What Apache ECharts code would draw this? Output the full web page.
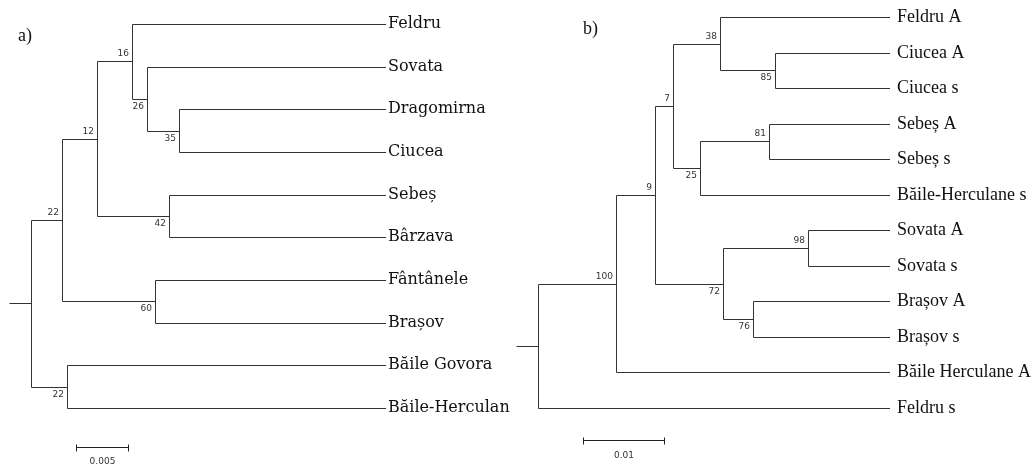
<!DOCTYPE html>
<html><head><meta charset="utf-8">
<script src="https://cdn.jsdelivr.net/npm/echarts@6/dist/echarts.min.js"></script>
<style>html,body{margin:0;padding:0;background:#fff}#c{width:1036px;height:464px}</style>
</head><body><div id="c"></div>
<script>
// ---- Tree a) : nodes in drawing order, parent, branch length, bootstrap support
const nodesA   = ['root','c22a','c12','c16','Feldru','c26','Sovata','c35','Dragomirna','Ciucea','c42','Sebeș','Bârzava','c60','Fântânele','Brașov','c22b','Băile Govora','Băile-Herculan'];
const parentsA = [null,'root','c22a','c12','c16','c16','c26','c26','c35','c35','c12','c42','c42','c22a','c60','c60','root','c22b','c22b'];
const branchA  = [0.0021,0.0030,0.00337,0.00337,0.02442,0.00144,0.02298,0.00308,0.0199,0.0199,0.00692,0.02087,0.02087,0.00894,0.0222,0.0222,0.00346,0.03067,0.03067];
const supportA = [null,22,12,16,null,26,null,35,null,null,42,null,null,60,null,null,22,null,null];
const scaleA = 0.005;
const scaleLabelA = '0.005';

// ---- Tree b)
const nodesB   = ['root','c100','c9','c7','c38','Feldru A','c85','Ciucea A','Ciucea s','c25','c81','Sebeș A','Sebeș s','Băile-Herculane s','c72','c98','Sovata A','Sovata s','c76','Brașov A','Brașov s','Băile Herculane A','Feldru s'];
const parentsB = [null,'root','c100','c9','c7','c38','c38','c85','c85','c7','c25','c81','c81','c25','c9','c72','c98','c98','c72','c76','c76','c100','root'];
const branchB  = [0.00272,0.00963,0.00481,0.00222,0.0058,0.02099,0.00679,0.0142,0.0142,0.00333,0.00852,0.01494,0.01494,0.02346,0.0084,0.01049,0.01012,0.01012,0.0037,0.01691,0.01691,0.03383,0.04346];
const supportB = [null,100,9,7,38,null,85,null,null,25,81,null,null,null,72,98,null,null,76,null,null,null,null];
const scaleB = 0.01;
const scaleLabelB = '0.01';

function layoutTree(nodes, parents, branch, support) {
  const idx = {}; nodes.forEach((n, i) => idx[n] = i);
  const children = nodes.map(() => []);
  parents.forEach((p, i) => { if (p !== null) children[idx[p]].push(i); });
  const out = nodes.map((n, i) => ({ name: n, leaf: children[i].length === 0, support: support[i] }));
  let leafCount = 0;
  function visit(i, depth) {
    out[i].depth = depth;
    out[i].pdepth = parents[i] === null ? -branch[i] : depth - branch[i];
    if (children[i].length === 0) { out[i].y = leafCount++; }
    else {
      children[i].forEach(c => visit(c, depth + branch[c]));
      const f = children[i][0], l = children[i][children[i].length - 1];
      out[i].y = (out[f].y + out[l].y) / 2;
      out[i].y0 = out[f].y; out[i].y1 = out[l].y;
    }
    if (parents[i] !== null) {
      const sib = children[idx[parents[i]]];
      out[i].upper = sib[0] === i;
    }
  }
  visit(0, 0);
  const maxDepth = Math.max(...out.filter(o => o.leaf).map(o => o.depth));
  return { nodes: out, leaves: leafCount, min: -branch[0], max: maxDepth };
}

const LA = layoutTree(nodesA, parentsA, branchA, supportA);
const LB = layoutTree(nodesB, parentsB, branchB, supportB);

const LINE = '#333';
const px = v => Math.round(v) + 0.5;

function treeRender(L, cfg) {
  return function (params, api) {
    const n = L.nodes[params.dataIndex];
    const p1 = api.coord([n.pdepth, n.y]);
    const p2 = api.coord([n.depth, n.y]);
    const kids = [];
    const y = px(p2[1]);
    kids.push({ type: 'line', shape: { x1: px(p1[0]), y1: y, x2: n.leaf ? Math.round(p2[0]) : px(p2[0]), y2: y },
      style: { stroke: LINE, lineWidth: 1 } });
    if (!n.leaf) {
      const a = api.coord([n.depth, n.y0]), b = api.coord([n.depth, n.y1]);
      kids.push({ type: 'line', shape: { x1: px(a[0]), y1: px(a[1]), x2: px(b[0]), y2: px(b[1]) },
        style: { stroke: LINE, lineWidth: 1 } });
      if (n.support !== null) {
        kids.push({ type: 'text', style: { text: String(n.support), x: Math.round(p2[0]) - 3, y: n.upper ? y - 3 : y + 3,
          align: 'right', verticalAlign: n.upper ? 'bottom' : 'top', fill: '#333', fontSize: 9, fontFamily: 'DejaVu Sans' } });
      }
    } else {
      kids.push({ type: 'text', style: { text: n.name, x: Math.round(p2[0]) + cfg.gap, y: y + cfg.dy,
        align: 'left', verticalAlign: 'middle', fill: '#111', fontSize: cfg.fontSize, fontFamily: cfg.font } });
    }
    return { type: 'group', children: kids };
  };
}

function scaleRender(len, label, cfg) {
  return function (params, api) {
    const w = api.size([len, 0])[0];
    const x0 = px(cfg.x), x1 = px(cfg.x + w), y = px(cfg.y);
    return { type: 'group', children: [
      { type: 'line', shape: { x1: x0, y1: y, x2: x1, y2: y }, style: { stroke: '#222', lineWidth: 1 } },
      { type: 'line', shape: { x1: x0, y1: y - 3, x2: x0, y2: y + 4 }, style: { stroke: '#222', lineWidth: 1 } },
      { type: 'line', shape: { x1: x1, y1: y - 3, x2: x1, y2: y + 4 }, style: { stroke: '#222', lineWidth: 1 } },
      { type: 'text', style: { text: label, x: (x0 + x1) / 2, y: y + cfg.ly, align: 'center', verticalAlign: 'middle',
        fill: '#333', fontSize: 9, fontFamily: 'DejaVu Sans' } }
    ] };
  };
}

const chart = echarts.init(document.getElementById('c'), null, { renderer: 'canvas' });
chart.setOption({
  animation: false,
  backgroundColor: '#fff',
  grid: [
    { left: 9, top: 24, width: 377, height: 384 },
    { left: 516, top: 17, width: 374, height: 391 }
  ],
  xAxis: [
    { type: 'value', gridIndex: 0, min: LA.min, max: LA.max, show: false },
    { type: 'value', gridIndex: 1, min: LB.min, max: LB.max, show: false }
  ],
  yAxis: [
    { type: 'value', gridIndex: 0, min: 0, max: LA.leaves - 1, inverse: true, show: false },
    { type: 'value', gridIndex: 1, min: 0, max: LB.leaves - 1, inverse: true, show: false }
  ],
  graphic: [
    { type: 'text', left: 18, top: 27, style: { text: 'a)', fontSize: 18, fontFamily: 'Liberation Serif', fill: '#111' } },
    { type: 'text', left: 583, top: 20, style: { text: 'b)', fontSize: 18, fontFamily: 'Liberation Serif', fill: '#111' } }
  ],
  series: [
    { type: 'custom', xAxisIndex: 0, yAxisIndex: 0, clip: false, silent: true,
      data: LA.nodes.map(n => [n.depth, n.y]),
      renderItem: treeRender(LA, { gap: 2, dy: -1, fontSize: 16, font: 'DejaVu Serif' }) },
    { type: 'custom', xAxisIndex: 1, yAxisIndex: 1, clip: false, silent: true,
      data: LB.nodes.map(n => [n.depth, n.y]),
      renderItem: treeRender(LB, { gap: 7, dy: 0, fontSize: 18, font: 'Liberation Serif' }) },
    { type: 'custom', xAxisIndex: 0, yAxisIndex: 0, clip: false, silent: true,
      data: [[0, 0]], renderItem: scaleRender(scaleA, scaleLabelA, { x: 76, y: 447, ly: 14 }) },
    { type: 'custom', xAxisIndex: 1, yAxisIndex: 1, clip: false, silent: true,
      data: [[0, 0]], renderItem: scaleRender(scaleB, scaleLabelB, { x: 583, y: 440, ly: 15 }) }
  ]
});
</script>
</body></html>
